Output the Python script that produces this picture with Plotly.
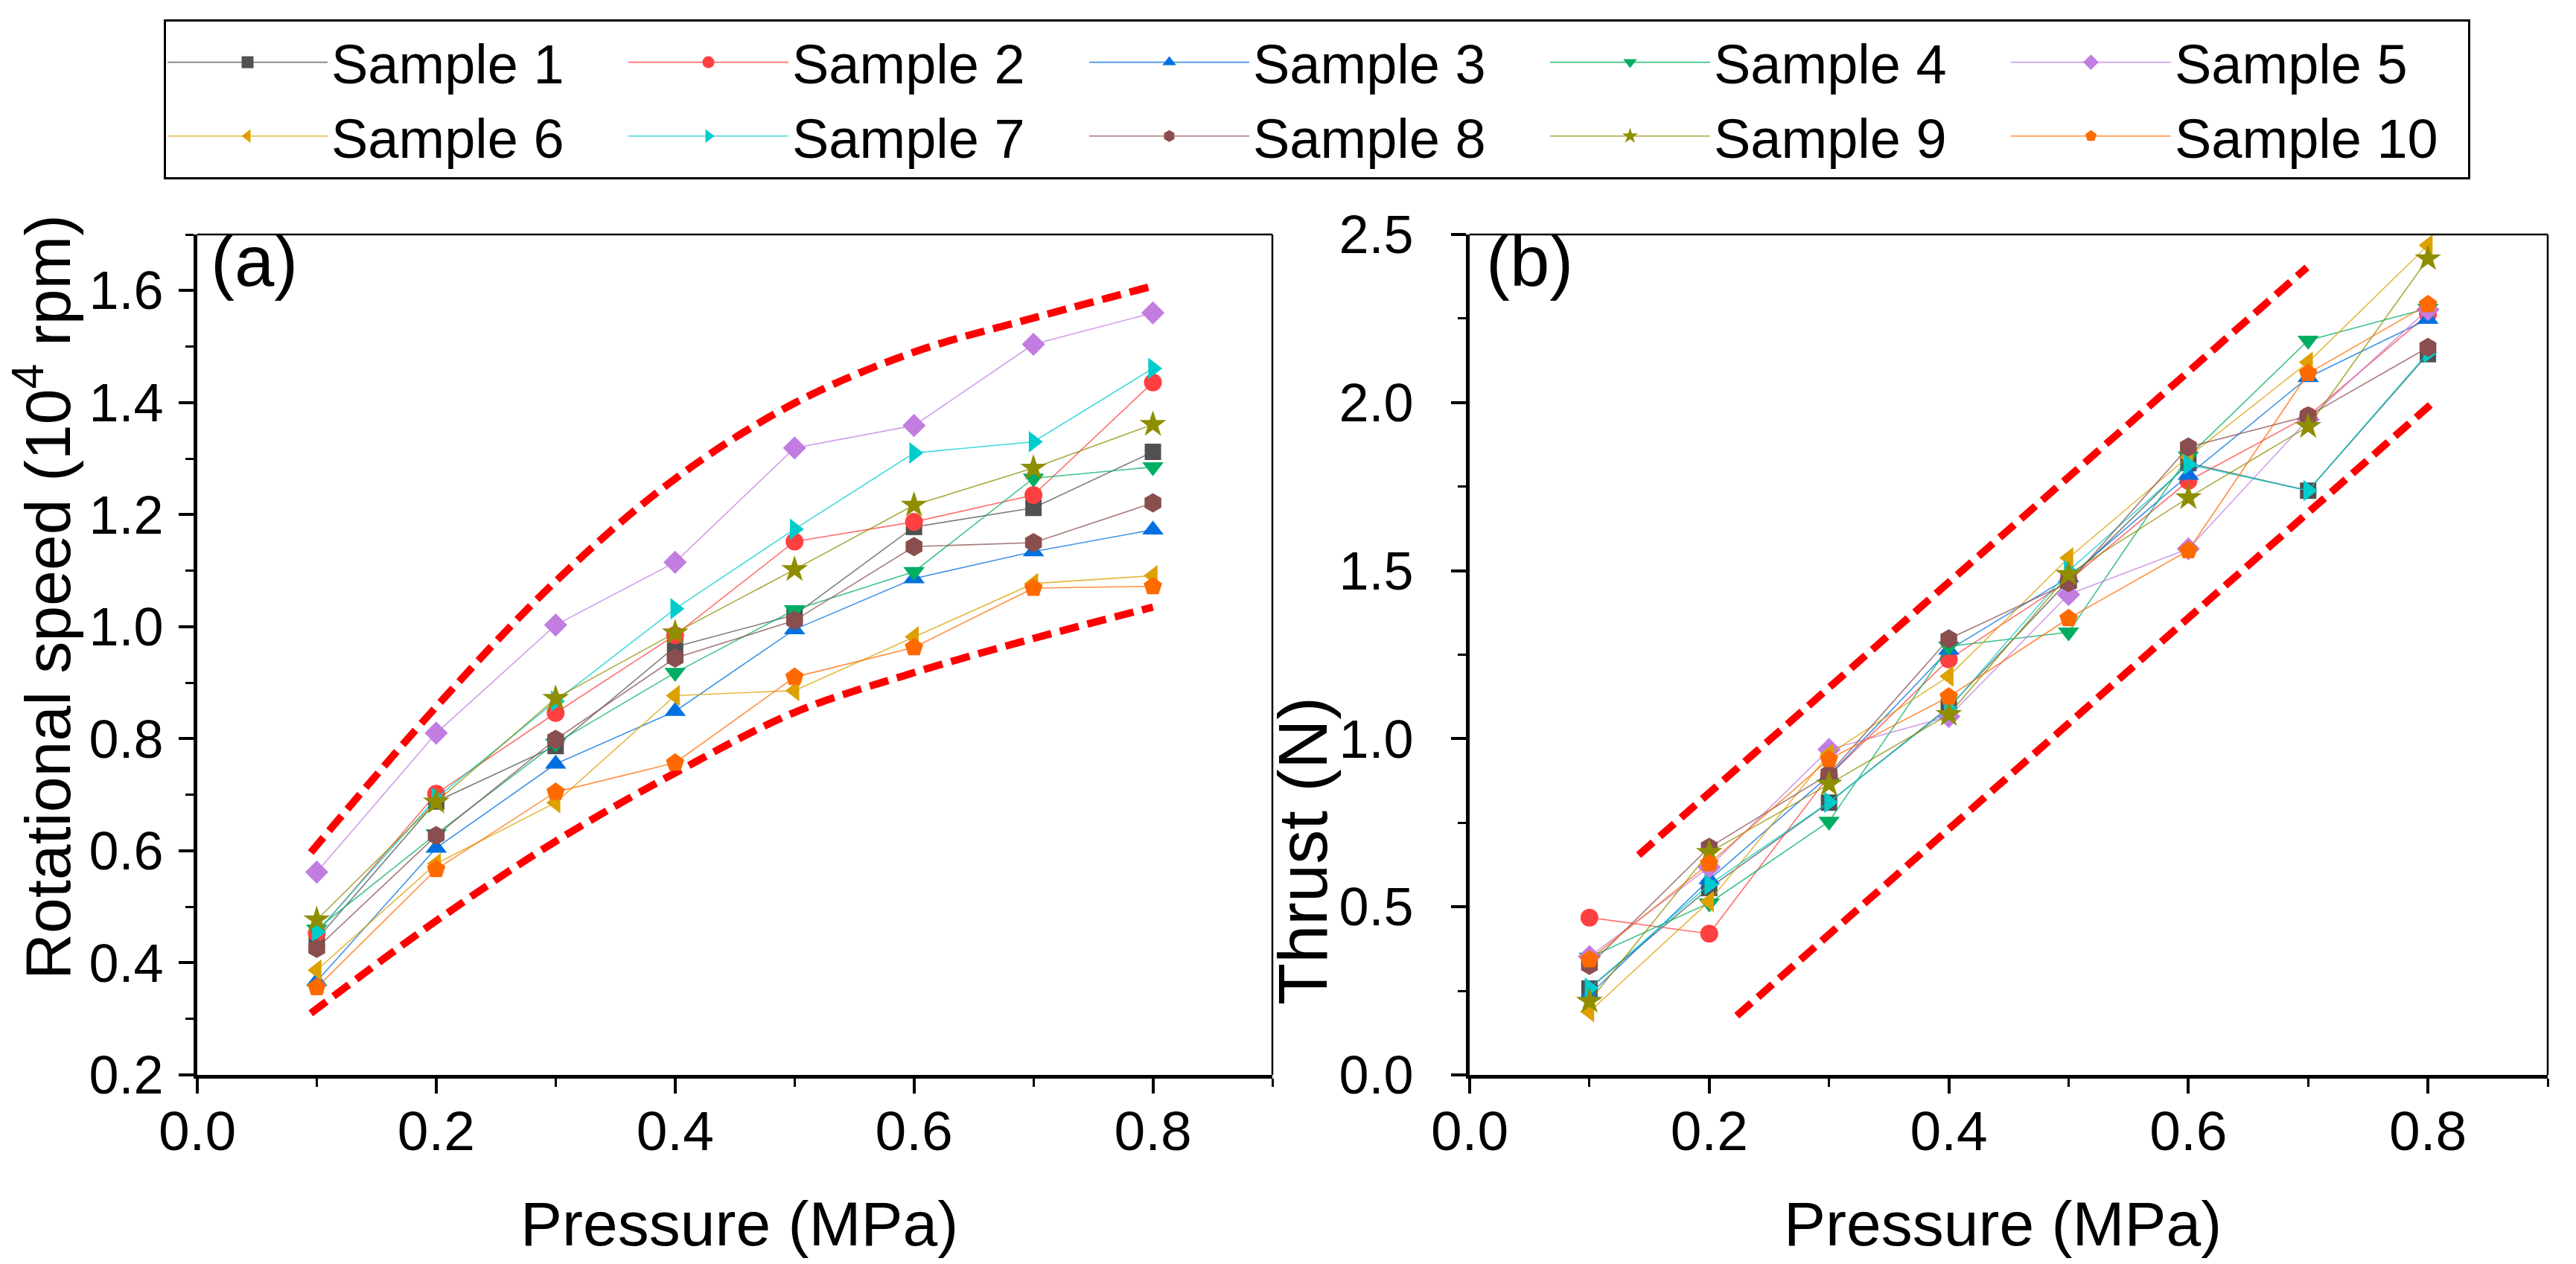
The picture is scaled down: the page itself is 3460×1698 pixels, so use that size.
import plotly.graph_objects as go

# ---------------- data ----------------
pressure = [0.1, 0.2, 0.3, 0.4, 0.5, 0.6, 0.7, 0.8]
sample_names = ["Sample 1", "Sample 2", "Sample 3", "Sample 4", "Sample 5",
                "Sample 6", "Sample 7", "Sample 8", "Sample 9", "Sample 10"]

# (a) rotational speed, 10^4 rpm
speed_s1 = [0.442, 0.688, 0.787, 0.964, 1.021, 1.178, 1.212, 1.312]
speed_s2 = [0.453, 0.702, 0.846, 0.985, 1.152, 1.187, 1.235, 1.436]
speed_s3 = [0.367, 0.605, 0.755, 0.849, 0.995, 1.086, 1.134, 1.173]
speed_s4 = [0.460, 0.630, 0.792, 0.918, 1.030, 1.098, 1.265, 1.285]
speed_s5 = [0.562, 0.810, 1.003, 1.115, 1.319, 1.359, 1.504, 1.560]
speed_s6 = [0.387, 0.577, 0.686, 0.877, 0.886, 0.982, 1.077, 1.091]
speed_s7 = [0.455, 0.694, 0.867, 1.032, 1.174, 1.310, 1.330, 1.461]
speed_s8 = [0.426, 0.627, 0.799, 0.944, 1.011, 1.143, 1.150, 1.221]
speed_s9 = [0.477, 0.687, 0.872, 0.989, 1.102, 1.217, 1.283, 1.361]
speed_s10 = [0.356, 0.567, 0.705, 0.757, 0.910, 0.963, 1.069, 1.072]

# (b) thrust, N
thrust_s1 = [0.257, 0.556, 0.810, 1.094, 1.470, 1.820, 1.738, 2.144]
thrust_s2 = [0.468, 0.420, 0.890, 1.236, 1.470, 1.767, 1.960, 2.263]
thrust_s3 = [0.238, 0.581, 0.890, 1.264, 1.480, 1.784, 2.075, 2.248]
thrust_s4 = [0.350, 0.511, 0.754, 1.275, 1.317, 1.840, 2.185, 2.280]
thrust_s5 = [0.352, 0.618, 0.968, 1.066, 1.429, 1.565, 1.950, 2.277]
thrust_s6 = [0.188, 0.516, 0.954, 1.186, 1.538, 1.839, 2.120, 2.468]
thrust_s7 = [0.258, 0.566, 0.811, 1.090, 1.499, 1.816, 1.738, 2.148]
thrust_s8 = [0.326, 0.677, 0.895, 1.297, 1.464, 1.868, 1.960, 2.164]
thrust_s9 = [0.219, 0.662, 0.865, 1.072, 1.489, 1.717, 1.929, 2.428]
thrust_s10 = [0.343, 0.629, 0.939, 1.125, 1.358, 1.560, 2.087, 2.292]

# red dashed envelope guides
guide_a_upper_x = [0.095, 0.2, 0.3, 0.4, 0.5, 0.6, 0.7, 0.8]
guide_a_upper_y = [0.597, 0.857, 1.081, 1.264, 1.399, 1.490, 1.551, 1.608]
guide_a_lower_x = [0.095, 0.2, 0.3, 0.4, 0.5, 0.6, 0.7, 0.8]
guide_a_lower_y = [0.310, 0.475, 0.617, 0.739, 0.847, 0.918, 0.979, 1.035]
guide_b_upper_x = [0.141, 0.699]
guide_b_upper_y = [0.654, 2.402]
guide_b_lower_x = [0.223, 0.802]
guide_b_lower_y = [0.176, 1.993]

x_ticks = [0.0, 0.2, 0.4, 0.6, 0.8]

speed = [speed_s1, speed_s2, speed_s3, speed_s4, speed_s5,
         speed_s6, speed_s7, speed_s8, speed_s9, speed_s10]
thrust = [thrust_s1, thrust_s2, thrust_s3, thrust_s4, thrust_s5,
          thrust_s6, thrust_s7, thrust_s8, thrust_s9, thrust_s10]

# ---------------- style ----------------
colors = ["#515151", "#FF4040", "#0070E0", "#00AE62", "#C27DE0",
          "#DDA000", "#00CCCC", "#8A4E4E", "#8E8E00", "#FF6A00"]
symbols = ["square", "circle", "triangle-up", "triangle-down", "diamond",
           "triangle-left", "triangle-right", "hexagon", "star", "pentagon"]
sizes = [22, 24, 25, 25, 24, 25, 25, 26, 27, 26]


def rgba(hexc, a):
    h = hexc.lstrip("#")
    return "rgba(%d,%d,%d,%.2f)" % (int(h[0:2], 16), int(h[2:4], 16), int(h[4:6], 16), a)


FONT = "Liberation Sans, Arial, sans-serif"

W, H = 3460, 1698
T = 300  # top margin (legend lives above the plot area)


def px(x_px):
    return x_px / W


def py(y_px):
    return (H - y_px) / (H - T)


fig = go.Figure()

guide_style = dict(color="#FF0000", width=10, dash="26px,12px")
fig.add_trace(go.Scatter(x=guide_a_upper_x, y=guide_a_upper_y, mode="lines",
                         line=dict(shape="spline", **guide_style), showlegend=False,
                         hoverinfo="skip", xaxis="x", yaxis="y"))
fig.add_trace(go.Scatter(x=guide_a_lower_x, y=guide_a_lower_y, mode="lines",
                         line=dict(shape="spline", **guide_style), showlegend=False,
                         hoverinfo="skip", xaxis="x", yaxis="y"))
fig.add_trace(go.Scatter(x=guide_b_upper_x, y=guide_b_upper_y, mode="lines",
                         line=guide_style, showlegend=False,
                         hoverinfo="skip", xaxis="x2", yaxis="y2"))
fig.add_trace(go.Scatter(x=guide_b_lower_x, y=guide_b_lower_y, mode="lines",
                         line=guide_style, showlegend=False,
                         hoverinfo="skip", xaxis="x2", yaxis="y2"))

for i, name in enumerate(sample_names):
    common = dict(mode="lines+markers",
                  line=dict(color=rgba(colors[i], 0.75), width=1.6),
                  marker=dict(symbol=symbols[i], size=sizes[i], color=colors[i],
                              line=dict(width=0)),
                  legendgroup=name, name=name)
    fig.add_trace(go.Scatter(x=pressure, y=speed[i], xaxis="x", yaxis="y",
                             showlegend=True, **common))
    fig.add_trace(go.Scatter(x=pressure, y=thrust[i], xaxis="x2", yaxis="y2",
                             showlegend=False, **common))

ax_a = [px(265), px(1709)]
ax_b = [px(1974), px(3422)]
ydom = [py(1444), py(315)]

xtickfont = dict(family=FONT, size=75, color="black")
ytickfont = dict(family=FONT, size=72, color="black")

xcommon = dict(range=[0, 0.9], tickmode="array", tickvals=x_ticks, tickformat=".1f",
               ticks="outside", ticklen=20, tickwidth=4, tickcolor="black",
               minor=dict(dtick=0.1, tick0=0, ticks="outside", ticklen=11, tickwidth=3,
                          tickcolor="black"),
               showline=True, linewidth=5, linecolor="black", mirror=False,
               showgrid=False, zeroline=False, tickfont=xtickfont,
               ticklabelstandoff=-14, automargin=False)

ycommon = dict(ticks="outside", ticklen=20, tickwidth=4, tickcolor="black",
               tickformat=".1f", showline=True, linewidth=5, linecolor="black",
               showgrid=False, zeroline=False, tickfont=ytickfont,
               automargin=False)

fig.update_layout(
    width=W, height=H,
    margin=dict(l=0, r=0, t=T, b=0, autoexpand=False),
    paper_bgcolor="white", plot_bgcolor="white",
    showlegend=True,
    xaxis=dict(domain=ax_a, anchor="y", **xcommon),
    xaxis2=dict(domain=ax_b, anchor="y2", **xcommon),
    yaxis=dict(domain=ydom, anchor="x", range=[0.2, 1.7], tick0=0.2, dtick=0.2,
               minor=dict(dtick=0.1, tick0=0.2, ticks="outside", ticklen=11,
                          tickwidth=3, tickcolor="black"),
               ticksuffix="\u200a", **ycommon),
    yaxis2=dict(domain=ydom, anchor="x2", range=[0, 2.5], tick0=0, dtick=0.5,
                minor=dict(dtick=0.25, tick0=0, ticks="outside", ticklen=11,
                           tickwidth=3, tickcolor="black"),
                ticksuffix="\u2002", **ycommon),
    legend=dict(orientation="h", x=px(220), y=py(26), xanchor="left",
                yanchor="top", bordercolor="black", borderwidth=3,
                bgcolor="white", font=dict(family=FONT, size=74, color="black"),
                entrywidth=389, entrywidthmode="pixels", itemwidth=215,
                itemsizing="trace", tracegroupgap=0),
    annotations=[
        dict(text="(a)", x=0, y=1, xref="x domain", yref="y domain", xanchor="left",
             yanchor="top", xshift=16, yshift=20, showarrow=False,
             font=dict(family=FONT, size=96, color="black")),
        dict(text="(b)", x=0, y=1, xref="x2 domain", yref="y2 domain", xanchor="left",
             yanchor="top", xshift=20, yshift=20, showarrow=False,
             font=dict(family=FONT, size=96, color="black")),
        dict(text="Pressure (MPa)", x=px(993), y=py(1644), xref="paper", yref="paper",
             xanchor="center", yanchor="middle", showarrow=False,
             font=dict(family=FONT, size=84, color="black")),
        dict(text="Pressure (MPa)", x=px(2690), y=py(1644), xref="paper", yref="paper",
             xanchor="center", yanchor="middle", showarrow=False,
             font=dict(family=FONT, size=84, color="black")),
        dict(text="Rotational speed (10<sup>4</sup> rpm)", x=px(58), y=py(802),
             xref="paper", yref="paper", xanchor="center", yanchor="middle",
             textangle=-90, showarrow=False,
             font=dict(family=FONT, size=86, color="black")),
        dict(text="Thrust (N)", x=px(1750), y=py(1143), xref="paper", yref="paper",
             xanchor="center", yanchor="middle", textangle=-90, showarrow=False,
             font=dict(family=FONT, size=92, color="black")),
    ],
    shapes=[
        dict(type="line", xref="x domain", yref="y domain", x0=0, x1=1, y0=1, y1=1,
             line=dict(color="black", width=2.5)),
        dict(type="line", xref="x domain", yref="y domain", x0=1, x1=1, y0=0, y1=1,
             line=dict(color="black", width=2.5)),
        dict(type="line", xref="x2 domain", yref="y2 domain", x0=0, x1=1, y0=1, y1=1,
             line=dict(color="black", width=2.5)),
        dict(type="line", xref="x2 domain", yref="y2 domain", x0=1, x1=1, y0=0, y1=1,
             line=dict(color="black", width=2.5)),
    ],
)

fig.write_html("out.html")
